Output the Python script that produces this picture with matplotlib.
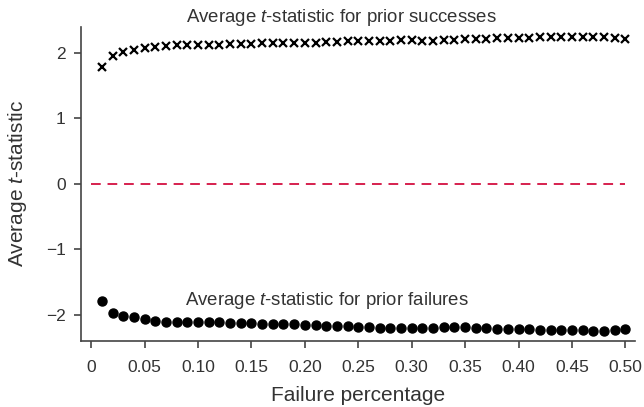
import numpy as np
import matplotlib
matplotlib.use("Agg")
import matplotlib.pyplot as plt

plt.rcParams['font.family'] = ['Liberation Sans', 'DejaVu Sans']
plt.rcParams['mathtext.fontset'] = 'custom'
plt.rcParams['mathtext.rm'] = 'Liberation Sans'
plt.rcParams['mathtext.it'] = 'Liberation Sans:italic'

# failure percentage grid
failure_pct = np.round(np.arange(1, 51) * 0.01, 2)

# average t-statistic, prior successes
t_success = [
    1.79, 1.96, 2.01, 2.04, 2.07, 2.09, 2.11, 2.12, 2.12, 2.13,
    2.13, 2.13, 2.14, 2.14, 2.14, 2.15, 2.15, 2.15, 2.16, 2.16,
    2.16, 2.17, 2.17, 2.18, 2.18, 2.19, 2.19, 2.19, 2.20, 2.20,
    2.19, 2.19, 2.20, 2.20, 2.22, 2.22, 2.22, 2.23, 2.23, 2.23,
    2.23, 2.24, 2.24, 2.24, 2.24, 2.25, 2.25, 2.24, 2.23, 2.21,
]

# average t-statistic, prior failures
t_failure = [
    -1.80, -1.97, -2.02, -2.04, -2.07, -2.10, -2.11, -2.12, -2.12, -2.12,
    -2.12, -2.12, -2.13, -2.13, -2.13, -2.14, -2.14, -2.15, -2.15, -2.16,
    -2.16, -2.17, -2.18, -2.18, -2.19, -2.19, -2.20, -2.20, -2.20, -2.20,
    -2.20, -2.20, -2.19, -2.19, -2.19, -2.21, -2.21, -2.22, -2.22, -2.22,
    -2.22, -2.23, -2.23, -2.23, -2.23, -2.24, -2.25, -2.25, -2.23, -2.22,
]

xticks = [0, 0.05, 0.10, 0.15, 0.20, 0.25, 0.30, 0.35, 0.40, 0.45, 0.50]
xtick_labels = ['0', '0.05', '0.10', '0.15', '0.20', '0.25', '0.30',
                '0.35', '0.40', '0.45', '0.50']

fig = plt.figure(figsize=(6.44, 4.07), dpi=100)
ax = fig.add_axes([0.126, 0.163, 0.86, 0.771])

ax.plot(failure_pct, t_success, linestyle='none', marker='x', color='black',
        markersize=6, markeredgewidth=1.6)
ax.plot(failure_pct, t_failure, linestyle='none', marker='o', color='black',
        markersize=6.5)
ax.hlines(0, 0, 0.5, colors='#d6204e', linestyles=(0, (5, 3.5)), linewidth=1.4)

ax.text(0.234, 2.55, r'Average $\mathit{t}$-statistic for prior successes',
        ha='center', va='center', fontsize=13.4, color='#333333', clip_on=False)
ax.text(0.221, -1.79, r'Average $\mathit{t}$-statistic for prior failures',
        ha='center', va='center', fontsize=13.4, color='#333333')

ax.set_xlim(-0.0094, 0.509)
ax.set_ylim(-2.4, 2.4)
ax.set_xticks(xticks)
ax.set_xticklabels(xtick_labels)
ax.set_yticks([-2, -1, 0, 1, 2])
ax.set_yticklabels(['\u22122', '\u22121', '0', '1', '2'])

ax.set_xlabel('Failure percentage', fontsize=15, color='#333333', labelpad=8)
ax.set_ylabel(r'Average $\mathit{t}$-statistic', fontsize=15, color='#333333', labelpad=12)

for side in ['top', 'right']:
    ax.spines[side].set_visible(False)
for side in ['left', 'bottom']:
    ax.spines[side].set_color('#444444')
    ax.spines[side].set_linewidth(1.2)
ax.tick_params(axis='both', direction='out', length=5, width=1.2, color='#444444',
               labelsize=12.5, labelcolor='#333333')
ax.tick_params(axis='x', pad=9)
ax.tick_params(axis='y', pad=6)

fig.savefig('out.png', dpi=100)
